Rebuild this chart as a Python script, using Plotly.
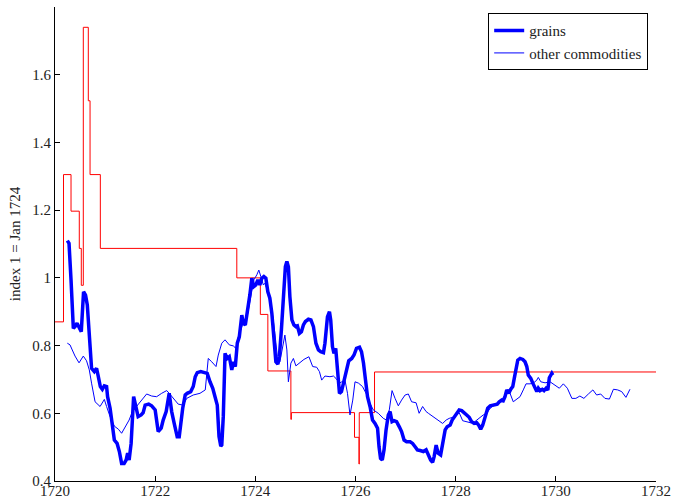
import plotly.graph_objects as go

# Grain price index (thick line)
grains_x = [
    1720.246, 1720.28, 1720.32, 1720.366, 1720.40, 1720.44, 1720.48, 1720.525, 1720.57, 1720.61,
    1720.645, 1720.685, 1720.73, 1720.785, 1720.83, 1720.865, 1720.905, 1720.945, 1720.985, 1721.03,
    1721.05, 1721.10, 1721.145, 1721.185, 1721.24, 1721.285, 1721.33, 1721.38, 1721.42, 1721.45,
    1721.48, 1721.52, 1721.57, 1721.61, 1721.66, 1721.72, 1721.76, 1721.80, 1721.87, 1721.93,
    1722.00, 1722.06, 1722.12, 1722.16, 1722.22, 1722.28, 1722.33, 1722.38, 1722.44, 1722.48,
    1722.55, 1722.60, 1722.64, 1722.71, 1722.76, 1722.80, 1722.84, 1722.91, 1723.00, 1723.04,
    1723.095, 1723.15, 1723.195, 1723.24, 1723.275, 1723.31, 1723.33, 1723.36, 1723.395, 1723.44,
    1723.48, 1723.53, 1723.56, 1723.60, 1723.64, 1723.68, 1723.73, 1723.76, 1723.80, 1723.85,
    1723.89, 1723.93, 1723.97, 1724.01, 1724.05, 1724.09, 1724.13, 1724.17, 1724.21, 1724.25,
    1724.29, 1724.33, 1724.37, 1724.41, 1724.45, 1724.48, 1724.52, 1724.56, 1724.60, 1724.63,
    1724.66, 1724.69, 1724.73, 1724.77, 1724.81, 1724.84, 1724.88, 1724.92, 1724.96, 1725.00,
    1725.06, 1725.11, 1725.16, 1725.21, 1725.26, 1725.305, 1725.36, 1725.39, 1725.44, 1725.48,
    1725.505, 1725.54, 1725.57, 1725.605, 1725.64, 1725.68, 1725.72, 1725.77, 1725.825, 1725.865,
    1725.925, 1725.97, 1726.02, 1726.08, 1726.12, 1726.16, 1726.20, 1726.24, 1726.29, 1726.34,
    1726.39, 1726.44, 1726.47, 1726.50, 1726.535, 1726.57, 1726.61, 1726.655, 1726.69, 1726.73,
    1726.77, 1726.82, 1726.875, 1726.92, 1726.97, 1727.02, 1727.09, 1727.14, 1727.19, 1727.235,
    1727.29, 1727.355, 1727.41, 1727.455, 1727.50, 1727.54, 1727.57, 1727.61, 1727.65, 1727.70,
    1727.74, 1727.79, 1727.83, 1727.89, 1727.93, 1727.99, 1728.03, 1728.07, 1728.12, 1728.17,
    1728.22, 1728.27, 1728.32, 1728.37, 1728.42, 1728.46, 1728.50, 1728.54, 1728.57, 1728.61,
    1728.64, 1728.69, 1728.74, 1728.79, 1728.83, 1728.87, 1728.92, 1728.95, 1728.985, 1729.02,
    1729.06, 1729.10, 1729.14, 1729.17, 1729.205, 1729.24, 1729.285, 1729.34, 1729.385, 1729.42,
    1729.45, 1729.50, 1729.54, 1729.585, 1729.62, 1729.65, 1729.685, 1729.73, 1729.765, 1729.805,
    1729.84, 1729.87, 1729.92, 1729.94,
]
grains_y = [
    1.110, 1.102, 0.994, 0.851, 0.856, 0.866, 0.854, 0.841, 0.959, 0.949,
    0.920, 0.836, 0.733, 0.723, 0.733, 0.708, 0.679, 0.671, 0.681, 0.679,
    0.649, 0.615, 0.570, 0.521, 0.511, 0.487, 0.452, 0.452, 0.462, 0.482,
    0.462, 0.511, 0.649, 0.620, 0.590, 0.595, 0.602, 0.624, 0.627, 0.622,
    0.610, 0.546, 0.556, 0.580, 0.605, 0.659, 0.605, 0.570, 0.531, 0.531,
    0.615, 0.654, 0.659, 0.664, 0.679, 0.708, 0.720, 0.723, 0.721, 0.718,
    0.693, 0.674, 0.649, 0.624, 0.531, 0.503, 0.506, 0.590, 0.777, 0.762,
    0.767, 0.728, 0.752, 0.738, 0.807, 0.826, 0.890, 0.866, 0.861, 0.905,
    0.949, 0.999, 0.974, 0.979, 0.994, 0.979, 0.999, 1.004, 0.999, 0.959,
    0.940, 0.895, 0.817, 0.752, 0.745, 0.767, 0.846, 0.944, 1.033, 1.048,
    1.033, 0.944, 0.876, 0.861, 0.856, 0.858, 0.836, 0.841, 0.861, 0.871,
    0.878, 0.876, 0.856, 0.807, 0.787, 0.782, 0.779, 0.807, 0.885, 0.900,
    0.876, 0.797, 0.777, 0.792, 0.738, 0.659, 0.664, 0.698, 0.728, 0.755,
    0.762, 0.772, 0.792, 0.795, 0.782, 0.748, 0.698, 0.649, 0.620, 0.580,
    0.570, 0.556, 0.501, 0.467, 0.462, 0.492, 0.551, 0.595, 0.605, 0.575,
    0.578, 0.575, 0.560, 0.546, 0.521, 0.516, 0.516, 0.511, 0.501, 0.492,
    0.490, 0.487, 0.492, 0.477, 0.462, 0.455, 0.472, 0.506, 0.482, 0.477,
    0.511, 0.551, 0.560, 0.565, 0.580, 0.595, 0.602, 0.610, 0.608, 0.600,
    0.595, 0.588, 0.575, 0.570, 0.572, 0.565, 0.553, 0.565, 0.580, 0.595,
    0.615, 0.622, 0.624, 0.627, 0.627, 0.634, 0.639, 0.637, 0.649, 0.669,
    0.659, 0.671, 0.679, 0.703, 0.738, 0.757, 0.762, 0.759, 0.752, 0.738,
    0.713, 0.703, 0.689, 0.671, 0.664, 0.674, 0.667, 0.671, 0.667, 0.674,
    0.669, 0.705, 0.718, 0.713,
]

# Other commodities index (thin line)
other_x = [
    1720.246, 1720.30, 1720.345, 1720.40, 1720.48, 1720.565, 1720.63, 1720.685, 1720.73, 1720.80,
    1720.90, 1720.985, 1721.03, 1721.10, 1721.185, 1721.265, 1721.33, 1721.40, 1721.48, 1721.545,
    1721.65, 1721.745, 1721.83, 1721.93, 1722.03, 1722.13, 1722.23, 1722.28, 1722.36, 1722.46,
    1722.56, 1722.63, 1722.76, 1722.895, 1723.00, 1723.06, 1723.13, 1723.215, 1723.26, 1723.33,
    1723.395, 1723.48, 1723.56, 1723.61, 1723.66, 1723.73, 1723.78, 1723.83, 1723.88, 1723.93,
    1723.97, 1724.03, 1724.07, 1724.11, 1724.16, 1724.19, 1724.24, 1724.29, 1724.35, 1724.39,
    1724.44, 1724.49, 1724.54, 1724.59, 1724.63, 1724.66, 1724.71, 1724.76, 1724.81, 1724.89,
    1724.97, 1725.07, 1725.145, 1725.225, 1725.28, 1725.325, 1725.39, 1725.49, 1725.56, 1725.61,
    1725.68, 1725.725, 1725.79, 1725.84, 1725.89, 1725.945, 1725.99, 1726.06, 1726.14, 1726.21,
    1726.275, 1726.355, 1726.455, 1726.555, 1726.62, 1726.675, 1726.73, 1726.79, 1726.855, 1726.92,
    1726.99, 1727.055, 1727.12, 1727.21, 1727.27, 1727.34, 1727.41, 1727.455, 1727.55, 1727.65,
    1727.74, 1727.81, 1727.87, 1727.94, 1728.01, 1728.07, 1728.14, 1728.22, 1728.30, 1728.38,
    1728.47, 1728.55, 1728.62, 1728.69, 1728.77, 1728.85, 1728.92, 1728.985, 1729.03, 1729.085,
    1729.15, 1729.22, 1729.285, 1729.35, 1729.405, 1729.485, 1729.55, 1729.62, 1729.65, 1729.70,
    1729.785, 1729.885, 1729.985, 1730.07, 1730.15, 1730.23, 1730.32, 1730.40, 1730.48, 1730.56,
    1730.65, 1730.74, 1730.815, 1730.895, 1730.98, 1731.07, 1731.15, 1731.235, 1731.315, 1731.40,
    1731.48,
]
other_y = [
    0.807, 0.802, 0.787, 0.769, 0.749, 0.769, 0.755, 0.728, 0.689, 0.634,
    0.620, 0.641, 0.620, 0.590, 0.562, 0.553, 0.541, 0.560, 0.580, 0.605,
    0.624, 0.639, 0.657, 0.651, 0.649, 0.659, 0.667, 0.659, 0.644, 0.627,
    0.624, 0.644, 0.654, 0.659, 0.669, 0.762, 0.752, 0.738, 0.772, 0.807,
    0.817, 0.802, 0.799, 0.792, 0.826, 0.856, 0.876, 0.880, 0.925, 0.969,
    0.994, 1.009, 1.023, 1.004, 0.979, 0.984, 0.964, 0.930, 0.885, 0.836,
    0.767, 0.752, 0.797, 0.831, 0.787, 0.693, 0.748, 0.762, 0.740, 0.749,
    0.759, 0.767, 0.738, 0.736, 0.723, 0.698, 0.710, 0.708, 0.710, 0.703,
    0.689, 0.693, 0.698, 0.659, 0.595, 0.639, 0.693, 0.689, 0.679, 0.659,
    0.634, 0.610, 0.600, 0.585, 0.580, 0.610, 0.667, 0.644, 0.622, 0.639,
    0.654, 0.657, 0.634, 0.631, 0.600, 0.620, 0.605, 0.600, 0.590, 0.580,
    0.570, 0.580, 0.585, 0.588, 0.595, 0.602, 0.578, 0.575, 0.572, 0.575,
    0.585, 0.595, 0.600, 0.615, 0.624, 0.627, 0.639, 0.654, 0.669, 0.659,
    0.634, 0.641, 0.649, 0.669, 0.687, 0.687, 0.689, 0.698, 0.706, 0.693,
    0.690, 0.693, 0.684, 0.674, 0.687, 0.674, 0.644, 0.644, 0.651, 0.644,
    0.657, 0.669, 0.654, 0.657, 0.644, 0.642, 0.671, 0.669, 0.664, 0.647,
    0.671,
]

# Stepwise reference level (red)
step_x = [1720.0, 1720.17, 1720.32, 1720.485, 1720.525, 1720.565, 1720.665, 1720.70, 1720.905,
          1723.63, 1724.10, 1724.25, 1724.71, 1724.72, 1725.98, 1726.07, 1726.075, 1726.38, 1732.0]
step_y = [0.87, 1.305, 1.197, 1.087, 0.978, 1.74, 1.523, 1.305, 1.087,
          1.0, 0.892, 0.725, 0.582, 0.602, 0.529, 0.45, 0.602, 0.722, 0.722]

x_ticks = [1720, 1722, 1724, 1726, 1728, 1730, 1732]
y_ticks = [0.4, 0.6, 0.8, 1.0, 1.2, 1.4, 1.6]
y_tick_labels = ["0.4", "0.6", "0.8", "1", "1.2", "1.4", "1.6"]

FONT = "Times New Roman, Liberation Serif, serif"

fig = go.Figure()
fig.add_trace(go.Scatter(
    x=step_x, y=step_y, mode="lines", line=dict(color="#ff0000", width=1, shape="hv"),
    showlegend=False, hoverinfo="skip",
))
fig.add_trace(go.Scatter(
    x=other_x, y=other_y, mode="lines", name="other commodities",
    line=dict(color="#0000ff", width=1),
))
fig.add_trace(go.Scatter(
    x=grains_x, y=grains_y, mode="lines", name="grains",
    line=dict(color="#0000ff", width=3.5),
))

fig.update_layout(
    width=673, height=500,
    margin=dict(l=55, r=17, t=7, b=19),
    paper_bgcolor="white", plot_bgcolor="white",
    font=dict(family=FONT, size=15, color="#222222"),
    legend=dict(
        x=0.987, y=0.987, xanchor="right", yanchor="top",
        bgcolor="white", bordercolor="black", borderwidth=1,
        traceorder="reversed", font=dict(family=FONT, size=15),
        tracegroupgap=0, itemwidth=30,
    ),
    xaxis=dict(
        range=[1720, 1732], tickvals=x_ticks, ticks="inside", ticklen=5,
        tickcolor="black", showline=True, linecolor="black", linewidth=1,
        showgrid=False, zeroline=False, mirror=False, automargin=False,
        tickfont=dict(family=FONT, size=15), ticklabelstandoff=-4,
    ),
    yaxis=dict(
        range=[0.4, 1.8], tickvals=y_ticks, ticktext=y_tick_labels, ticks="inside",
        ticklen=5, tickcolor="black", showline=True, linecolor="black", linewidth=1,
        showgrid=False, zeroline=False, mirror=False, automargin=False,
        tickfont=dict(family=FONT, size=15),
        title=dict(text="index 1 = Jan 1724", font=dict(family=FONT, size=15), standoff=8),
    ),
)

fig.write_html("out.html")
